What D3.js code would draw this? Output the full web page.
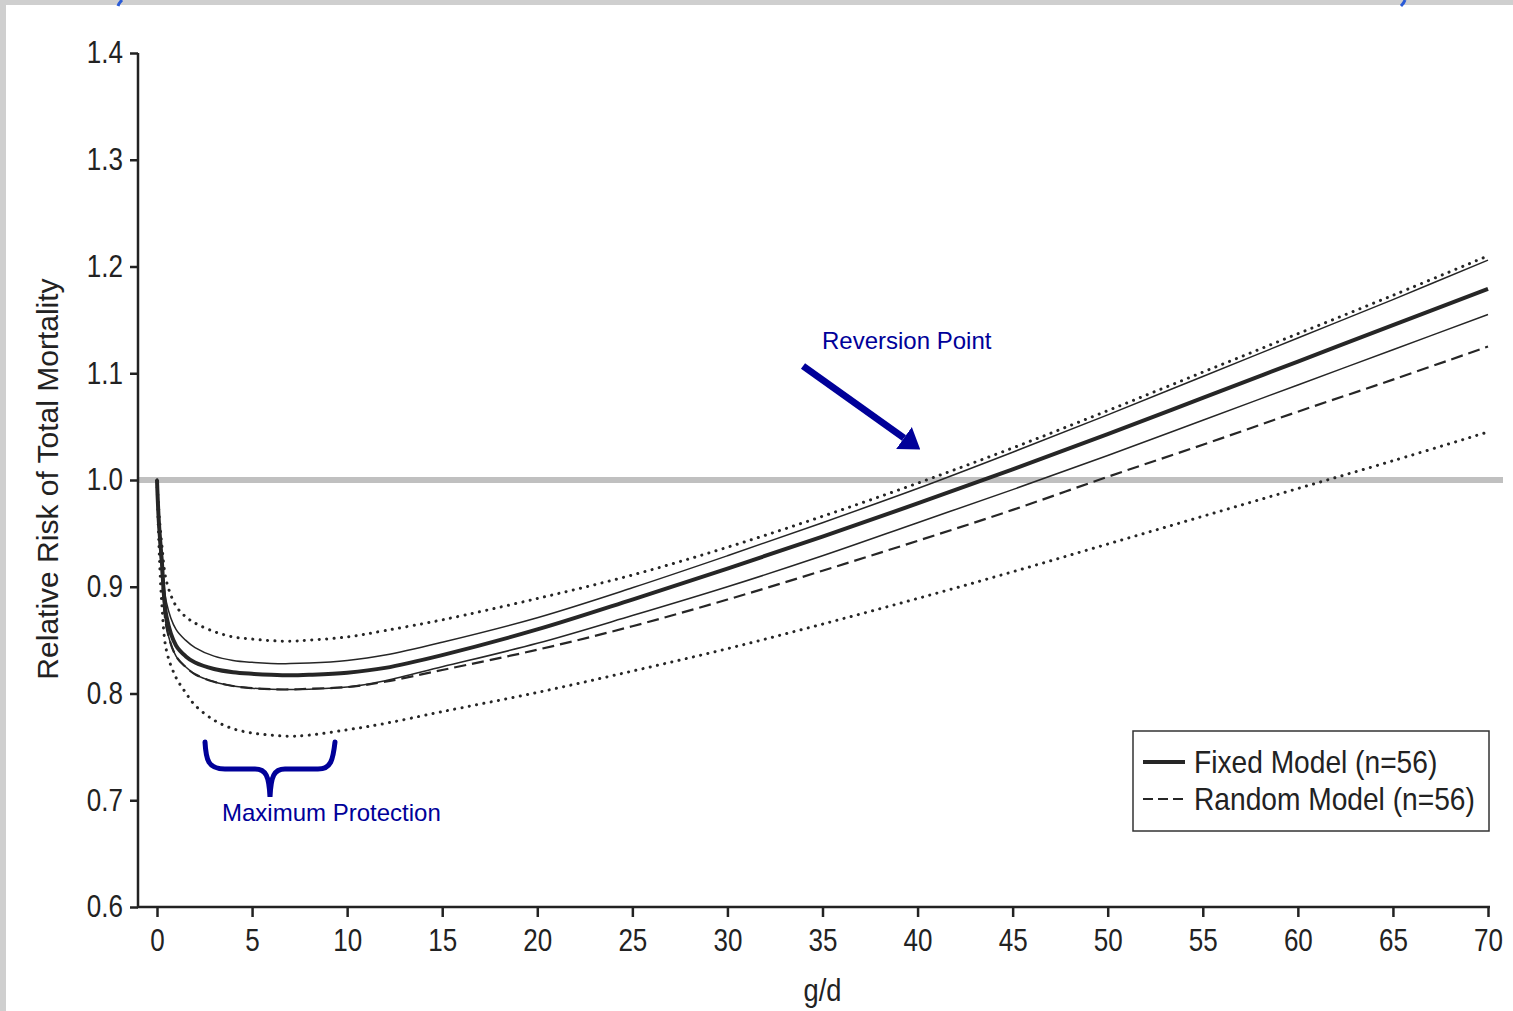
<!DOCTYPE html>
<html lang="en">
<head>
<meta charset="utf-8">
<script src="https://d3js.org/d3.v7.min.js"></script>
<style>
  *{margin:0;padding:0}
  body{width:1513px;height:1011px;background:#cfcfcf;overflow:hidden}
  svg{display:block}
  .tick text{font-family:"Liberation Sans Narrow","Arial Narrow","Liberation Sans",sans-serif;font-size:31px;fill:#222;
             transform-box:fill-box;transform:scaleX(0.84)}
  .y-axis .tick text{transform-origin:right center}
  .x-axis .tick text{transform-origin:center}
  .tick line{stroke:#222;stroke-width:2.5}
  .narrow{font-family:"Liberation Sans Narrow","Arial Narrow","Liberation Sans",sans-serif;fill:#222;
          transform-box:fill-box;transform:scaleX(0.88)}
</style>
</head>
<body>
<script>
// g/d sampled along the curves
const gramsPerDay = [0, 0.1, 0.25, 0.5, 1, 1.5, 2, 3, 4, 5, 6, 7, 8, 10, 12, 15, 20, 25, 30, 35, 40, 45, 50, 55, 60, 65, 70];
// relative risk
const fixedModel  = [1.0, 0.96, 0.925, 0.872, 0.845, 0.835, 0.829, 0.823, 0.820, 0.8185, 0.8175, 0.817, 0.8175, 0.8195, 0.824, 0.836, 0.860, 0.888, 0.917, 0.947, 0.978, 1.010, 1.043, 1.077, 1.111, 1.145, 1.179];
const fixedUpper  = [1.0, 0.965, 0.93, 0.885, 0.86, 0.85, 0.843, 0.835, 0.831, 0.8292, 0.8282, 0.828, 0.8285, 0.831, 0.836, 0.848, 0.871, 0.899, 0.929, 0.960, 0.992, 1.026, 1.061, 1.097, 1.133, 1.169, 1.206];
const fixedLower  = [1.0, 0.955, 0.915, 0.862, 0.835, 0.825, 0.818, 0.811, 0.807, 0.805, 0.804, 0.8037, 0.804, 0.806, 0.812, 0.825, 0.847, 0.873, 0.900, 0.929, 0.960, 0.991, 1.023, 1.056, 1.089, 1.122, 1.155];
const randomModel = [1.0, 0.955, 0.915, 0.862, 0.835, 0.825, 0.818, 0.811, 0.807, 0.805, 0.804, 0.8038, 0.8045, 0.806, 0.811, 0.822, 0.841, 0.863, 0.888, 0.915, 0.943, 0.972, 1.003, 1.033, 1.064, 1.094, 1.125];
const randomUpper = [1.0, 0.97, 0.94, 0.905, 0.882, 0.872, 0.866, 0.858, 0.853, 0.851, 0.8495, 0.849, 0.850, 0.853, 0.859, 0.869, 0.889, 0.911, 0.937, 0.966, 0.997, 1.030, 1.065, 1.101, 1.137, 1.173, 1.210];
const randomLower = [1.0, 0.94, 0.885, 0.84, 0.815, 0.801, 0.789, 0.775, 0.767, 0.763, 0.761, 0.760, 0.761, 0.766, 0.772, 0.783, 0.801, 0.821, 0.842, 0.865, 0.889, 0.914, 0.940, 0.966, 0.992, 1.018, 1.045];

const xTicks = [0, 5, 10, 15, 20, 25, 30, 35, 40, 45, 50, 55, 60, 65, 70];
const yTicks = [0.6, 0.7, 0.8, 0.9, 1.0, 1.1, 1.2, 1.3, 1.4];
const legendLabels = ['Fixed Model (n=56)', 'Random Model (n=56)'];

const W = 1513, H = 1011;
const blue = '#000099';

const svg = d3.select('body').append('svg').attr('width', W).attr('height', H);

// white panel inside the grey frame
svg.append('rect').attr('x', 6).attr('y', 5).attr('width', W - 6).attr('height', H - 5).attr('fill', '#fff');

// bits of blue brackets peeking at the top
svg.append('path').attr('d', 'M122,0 Q119,3 118,6').attr('fill', 'none').attr('stroke', '#2a5bd7').attr('stroke-width', 3);
svg.append('path').attr('d', 'M1405,0 Q1404,3 1401,6').attr('fill', 'none').attr('stroke', '#2a5bd7').attr('stroke-width', 3);

const x = d3.scaleLinear().domain([0, 70]).range([157, 1488]);
const y = d3.scaleLinear().domain([0.6, 1.4]).range([907, 53]);
const axisX = 138, axisY = 907;

// reference line at RR = 1
svg.append('line')
   .attr('x1', axisX).attr('x2', 1503)
   .attr('y1', y(1)).attr('y2', y(1))
   .attr('stroke', '#c0c0c0').attr('stroke-width', 6);

// axes
svg.append('g')
   .attr('class', 'y-axis')
   .attr('transform', `translate(${axisX},0)`)
   .call(d3.axisLeft(y).tickValues(yTicks).tickSize(8).tickSizeOuter(0).tickPadding(7).tickFormat(d3.format('.1f')))
   .call(g => g.select('.domain').remove());
svg.append('g')
   .attr('class', 'x-axis')
   .attr('transform', `translate(0,${axisY})`)
   .call(d3.axisBottom(x).tickValues(xTicks).tickSize(10).tickSizeOuter(0).tickPadding(8))
   .call(g => g.select('.domain').remove())
   .call(g => g.selectAll('.tick text').attr('dy', '0.85em'));
svg.append('path')
   .attr('d', `M${axisX},${y(1.4)}V${axisY}H1490`)
   .attr('fill', 'none').attr('stroke', '#222').attr('stroke-width', 2.5);

// axis titles
svg.append('text')
   .attr('transform', `translate(58,${y(1) - 1}) rotate(-90)`)
   .attr('text-anchor', 'middle')
   .attr('font-family', '"Liberation Sans", Arial, sans-serif')
   .attr('font-size', 30).attr('fill', '#222')
   .text('Relative Risk of Total Mortality');
svg.append('text')
   .attr('class', 'narrow')
   .attr('x', x(35)).attr('y', 1001)
   .attr('text-anchor', 'middle')
   .style('transform-origin', 'center')
   .attr('font-size', 31)
   .text('g/d');

// curves
const line = d3.line().x(d => x(d[0])).y(d => y(d[1])).curve(d3.curveCatmullRom.alpha(0.5));
const series = [
  {vals: randomLower, w: 3, dash: '0.1,7.3', cap: 'round'},
  {vals: randomUpper, w: 3, dash: '0.1,7.3', cap: 'round'},
  {vals: randomModel, w: 2.2, dash: '12,6', cap: 'butt'},
  {vals: fixedLower, w: 1.5, dash: null, cap: 'butt'},
  {vals: fixedUpper, w: 1.5, dash: null, cap: 'butt'},
  {vals: fixedModel, w: 4, dash: null, cap: 'butt'}
];
series.forEach(s => {
  svg.append('path')
     .datum(gramsPerDay.map((g, i) => [g, s.vals[i]]))
     .attr('d', line)
     .attr('fill', 'none')
     .attr('stroke', '#262626')
     .attr('stroke-width', s.w)
     .attr('stroke-linecap', s.cap)
     .attr('stroke-dasharray', s.dash);
});

// legend
const lg = svg.append('g').attr('transform', 'translate(1133,731)');
lg.append('rect').attr('width', 356).attr('height', 100)
  .attr('fill', '#fff').attr('stroke', '#333').attr('stroke-width', 1.5);
lg.selectAll('line.key').data(legendLabels).enter().append('line')
  .attr('class', 'key')
  .attr('x1', 10).attr('x2', 52)
  .attr('y1', (d, i) => 31 + i * 37).attr('y2', (d, i) => 31 + i * 37)
  .attr('stroke', '#262626')
  .attr('stroke-width', (d, i) => i ? 2 : 4)
  .attr('stroke-dasharray', (d, i) => i ? '10,5' : null);
lg.selectAll('text').data(legendLabels).enter().append('text')
  .attr('class', 'narrow')
  .attr('x', 61).attr('y', (d, i) => 42 + i * 37)
  .style('transform-origin', 'left center')
  .attr('font-size', 32)
  .text(d => d);

// annotations
const defs = svg.append('defs');
defs.append('marker').attr('id', 'head')
    .attr('viewBox', '0 0 20 27').attr('refX', 0).attr('refY', 13.5)
    .attr('markerUnits', 'userSpaceOnUse')
    .attr('markerWidth', 20).attr('markerHeight', 27).attr('orient', 'auto')
    .append('path').attr('d', 'M0,0L20,13.5L0,27Z').attr('fill', blue);
svg.append('line')
   .attr('x1', 803).attr('y1', 366).attr('x2', 904).attr('y2', 438)
   .attr('stroke', blue).attr('stroke-width', 7)
   .attr('marker-end', 'url(#head)');
svg.append('text')
   .attr('x', 822).attr('y', 349)
   .attr('font-family', '"Liberation Sans", Arial, sans-serif')
   .attr('font-size', 24).attr('fill', blue)
   .text('Reversion Point');

svg.append('path')
   .attr('d', 'M205,742 C206,760 208,769 225,769 L255,769 C266,769 269,776 270,797 C271,776 274,769 285,769 L318,769 C331,769 333,760 335,742')
   .attr('fill', 'none').attr('stroke', blue).attr('stroke-width', 5).attr('stroke-linecap', 'round');
svg.append('text')
   .attr('x', 222).attr('y', 821)
   .attr('font-family', '"Liberation Sans", Arial, sans-serif')
   .attr('font-size', 24).attr('fill', blue)
   .text('Maximum Protection');
</script>
</body>
</html>
